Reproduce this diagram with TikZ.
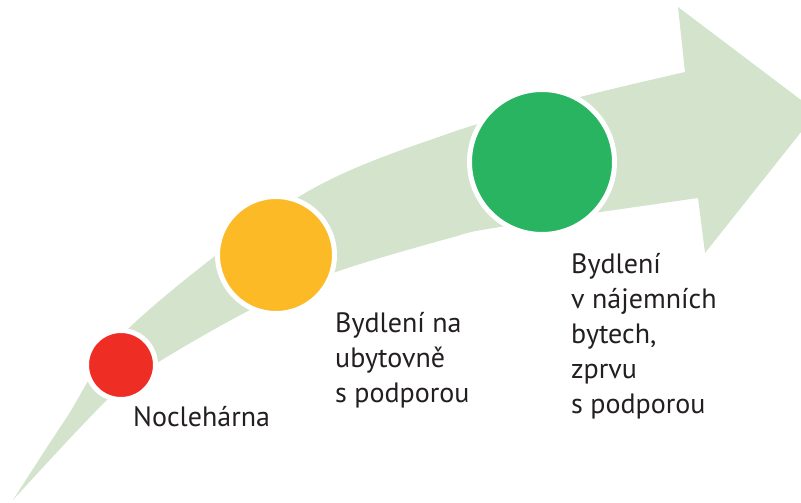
\documentclass[tikz,border=0pt]{standalone}
\usepackage{fontspec}
\setmainfont{PT Sans}
\definecolor{arrowgreen}{HTML}{D4E4CC}
\definecolor{stepred}{HTML}{EE2E24}
\definecolor{stepyellow}{HTML}{FBBA26}
\definecolor{stepgreen}{HTML}{28B460}
\definecolor{txt}{HTML}{231F20}
\tikzset{
  stage/.style={circle, draw=white, line width=5pt, inner sep=0pt},
  label/.style={anchor=base west, align=left, inner sep=0pt, text=txt,
    font=\fontsize{28}{35}\selectfont}
}
\begin{document}
\begin{tikzpicture}[x=1pt,y=-1pt]
\useasboundingbox (0,0) rectangle (801,503);
\clip (0,0) rectangle (801,503);
\fill[arrowgreen]
  plot[smooth, tension=0.55] coordinates {(13,500) (65,420) (130,327) (300,196) (450,133) (580,97) (685,72)}
  -- (678,7) -- (817,112) -- (705,253) -- (698,198)
  -- plot[smooth, tension=0.55] coordinates {(698,198) (500,227) (450,238) (333,273) (250,310) (157,363) (107,400) (13,500)}
  -- cycle;
\node[stage, fill=stepred, minimum size=69pt] (red) at (121,365) {};
\node[stage, fill=stepyellow, minimum size=117pt] (yellow) at (276,255) {};
\node[stage, fill=stepgreen, minimum size=145pt] (green) at (542,162) {};
\node[label] (t1) at (133,426) {Noclehárna};
\node[label] (t2) at (335,402) {Bydlení na\\ubytovně\\s podporou};
\node[label] (t3) at (571,413) {Bydlení\\v nájemních\\bytech,\\zprvu\\s podporou};
\end{tikzpicture}
\end{document}
